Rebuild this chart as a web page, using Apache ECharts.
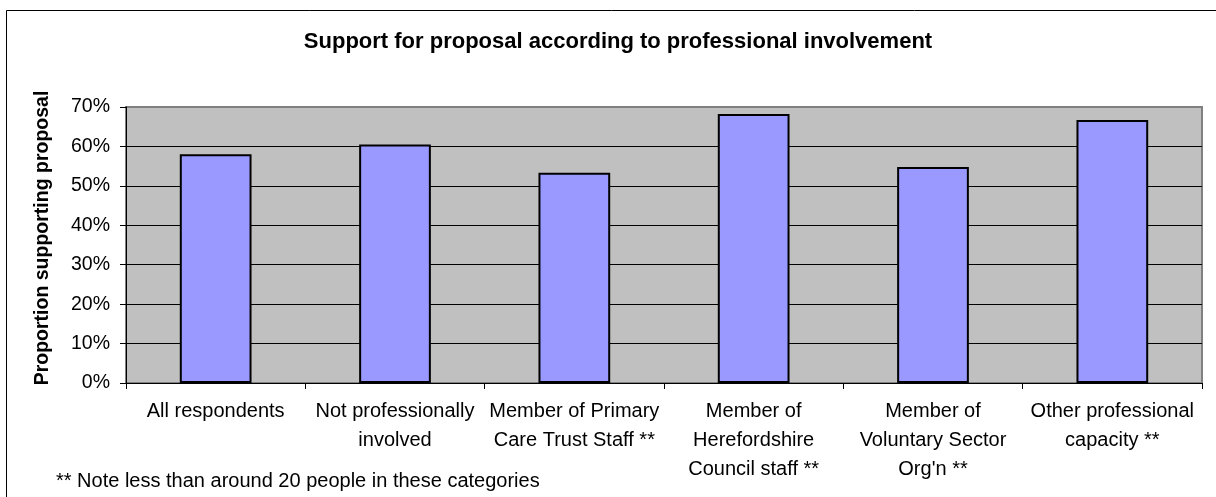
<!DOCTYPE html>
<html>
<head>
<meta charset="utf-8">
<style>
  html, body { margin: 0; padding: 0; background: #fff; overflow: hidden; }
  #chart { width: 1216px; height: 497px; }
</style>
<script src="https://cdn.jsdelivr.net/npm/echarts@6/dist/echarts.min.js"></script>
</head>
<body>
<div id="chart"></div>
<script>
// Respondent groups (x axis) and share supporting the proposal, in percent
const categories = [
  'All respondents',
  'Not professionally\ninvolved',
  'Member of Primary\nCare Trust Staff **',
  'Member of\nHerefordshire\nCouncil staff **',
  'Member of\nVoluntary Sector\nOrg\'n **',
  'Other professional\ncapacity **'
];
const supportPct = [58.0, 60.5, 53.3, 68.2, 54.8, 66.7];

const titleText = 'Support for proposal according to professional involvement';
const yAxisTitle = 'Proportion supporting proposal';
const footnote = '** Note less than around 20 people in these categories';

const FONT = '"Liberation Sans", Arial, sans-serif';

const chart = echarts.init(document.getElementById('chart'), null, { renderer: 'canvas' });

chart.setOption({
  animation: false,
  backgroundColor: '#ffffff',
  title: {
    text: titleText,
    left: 613,
    textAlign: 'center',
    top: 26,
    textStyle: { fontFamily: FONT, fontSize: 22, fontWeight: 'bold', color: '#000' }
  },
  grid: {
    left: 126,
    right: 14,
    top: 107,
    bottom: 114,
    show: true,
    backgroundColor: '#C0C0C0',
    borderColor: '#808080',
    borderWidth: 2
  },
  xAxis: {
    type: 'category',
    data: categories,
    axisLine: { show: true, lineStyle: { color: '#000', width: 1 } },
    axisTick: { show: true, alignWithLabel: false, length: 6, lineStyle: { color: '#000' } },
    axisLabel: {
      interval: 0,
      margin: 14,
      fontFamily: FONT,
      fontSize: 20,
      lineHeight: 29,
      color: '#000',
      align: 'center'
    }
  },
  yAxis: {
    type: 'value',
    min: 0,
    max: 70,
    interval: 10,
    axisLine: { show: true, lineStyle: { color: '#000', width: 1 } },
    axisTick: { show: true, length: 6, lineStyle: { color: '#000' } },
    axisLabel: {
      formatter: '{value}%',
      margin: 16,
      fontFamily: FONT,
      fontSize: 19.5,
      color: '#000'
    },
    splitLine: { show: true, showMaxLine: false, lineStyle: { color: '#000', width: 1 } }
  },
  series: [{
    type: 'bar',
    data: supportPct,
    barWidth: '40%',
    itemStyle: { color: '#9999FF', borderColor: '#000', borderWidth: 2 }
  }],
  graphic: [
    {
      // outer chart frame
      type: 'rect',
      silent: true,
      shape: { x: 6.5, y: 10.5, width: 1400, height: 700 },
      style: { fill: 'none', stroke: '#000', lineWidth: 1 }
    },
    {
      type: 'text',
      x: 43,
      y: 238,
      rotation: Math.PI / 2,
      style: {
        text: yAxisTitle,
        fontFamily: FONT,
        fontSize: 19.5,
        fontWeight: 'bold',
        fill: '#000',
        align: 'center',
        verticalAlign: 'middle'
      }
    },
    {
      type: 'text',
      x: 56,
      y: 481,
      style: {
        text: footnote,
        fontFamily: FONT,
        fontSize: 20,
        fill: '#000',
        align: 'left',
        verticalAlign: 'middle'
      }
    }
  ]
});
</script>
</body>
</html>
